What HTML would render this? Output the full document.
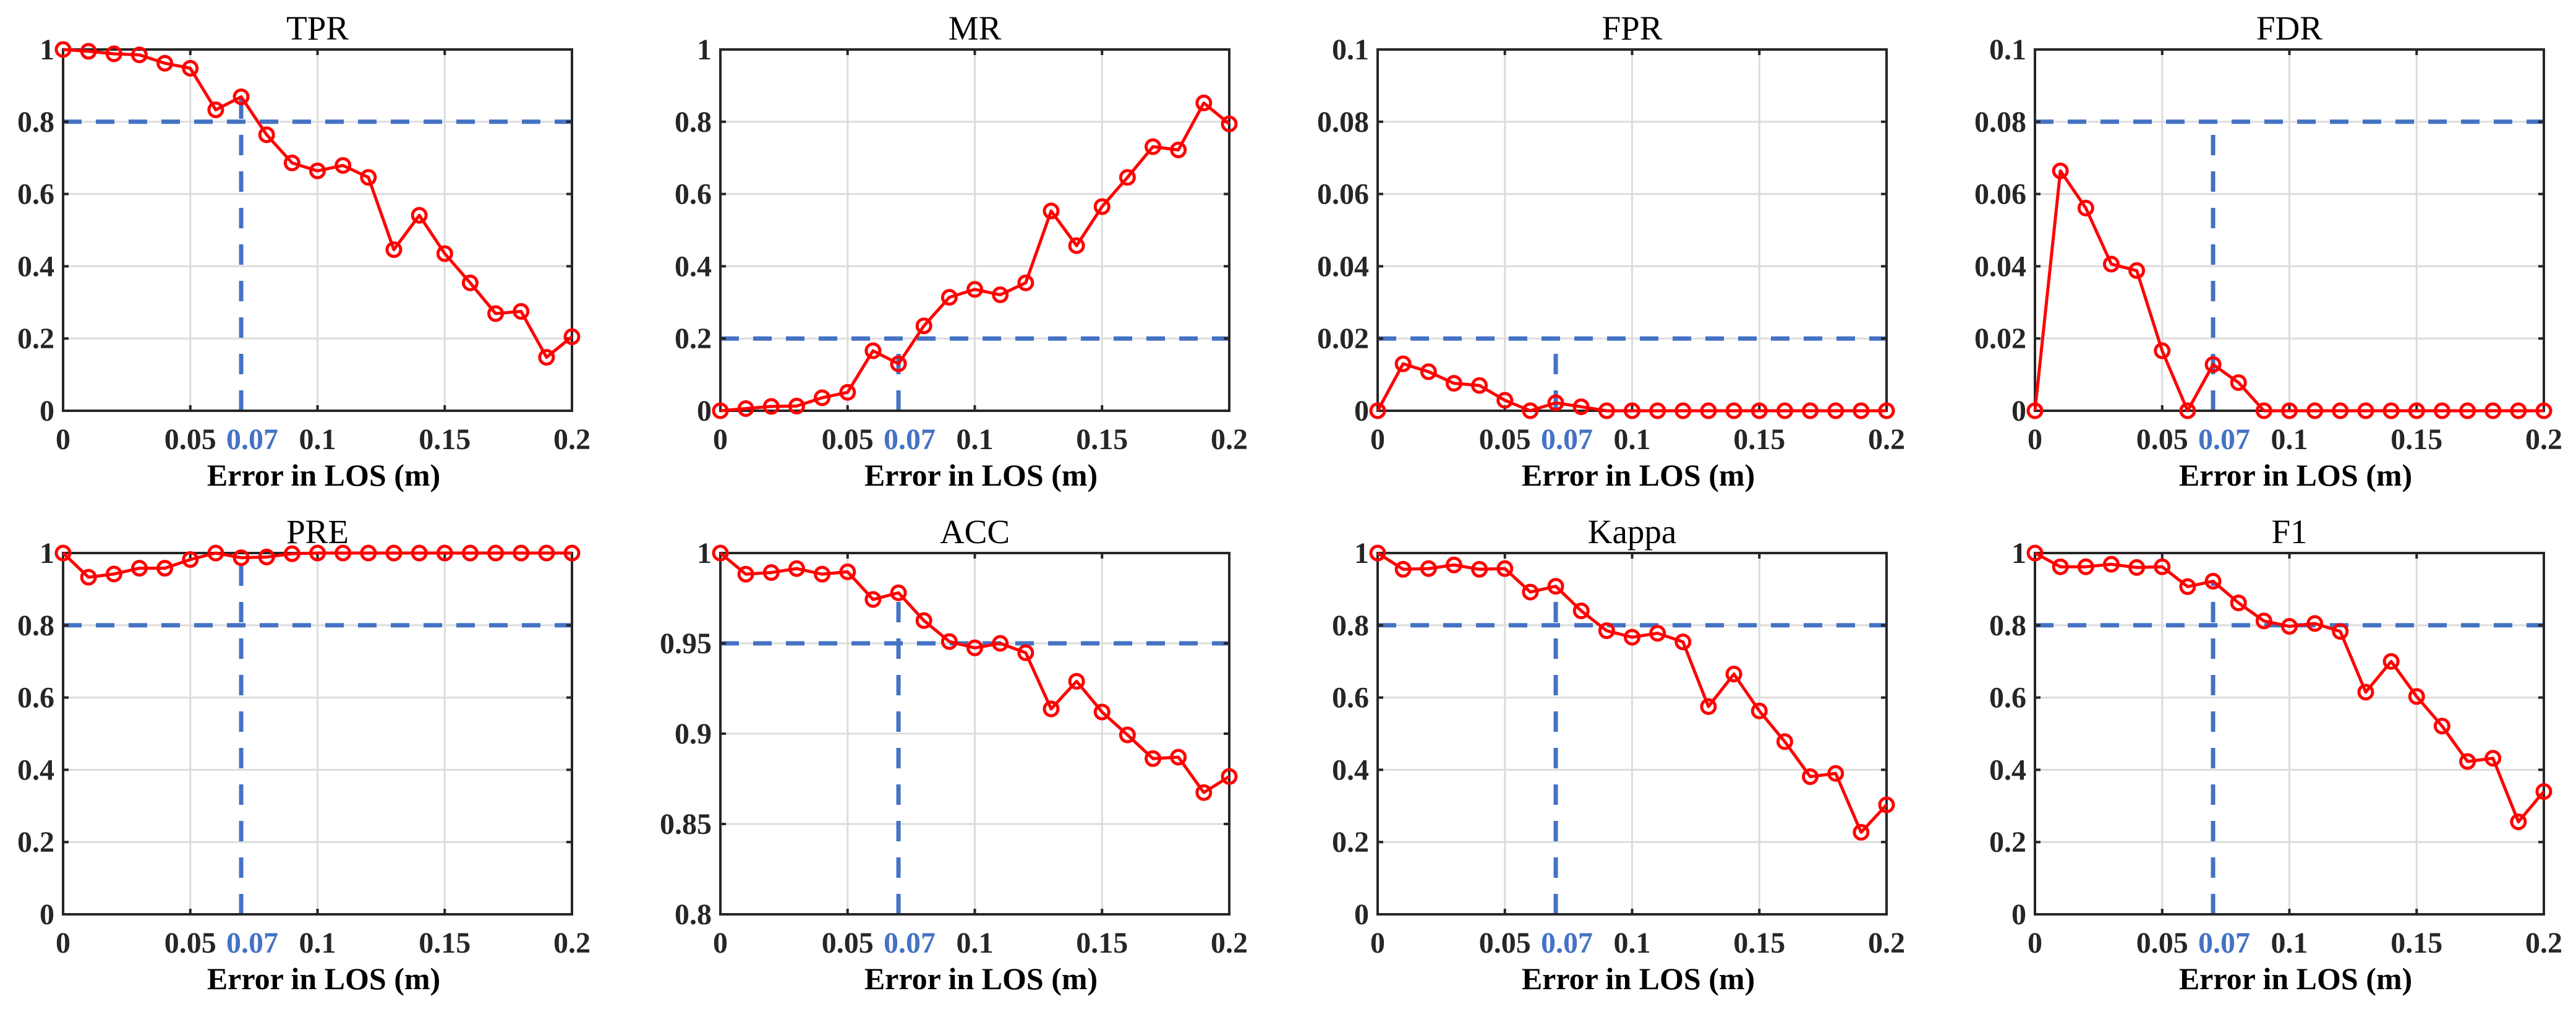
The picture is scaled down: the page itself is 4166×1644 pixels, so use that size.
<!DOCTYPE html>
<html>
<head>
<meta charset="utf-8">
<style>
html,body{margin:0;padding:0;background:#fff;}
svg{display:block;}
</style>
</head>
<body>
<svg id="fig" xmlns="http://www.w3.org/2000/svg" width="4166" height="1644" viewBox="0 0 4166 1644"></svg>
<script>
const xValues = [0,0.01,0.02,0.03,0.04,0.05,0.06,0.07,0.08,0.09,0.1,0.11,0.12,0.13,0.14,0.15,0.16,0.17,0.18,0.19,0.2];
const xTicks = [0,0.05,0.1,0.15,0.2];
const xTickLabels = ["0","0.05","0.1","0.15","0.2"];
const markX = 0.07;
const markLabel = "0.07";

const tprValues = [1.0,0.995,0.988,0.985,0.962,0.948,0.833,0.869,0.764,0.686,0.664,0.679,0.646,0.446,0.541,0.435,0.354,0.269,0.275,0.148,0.205];
const mrValues = [0,0.006,0.012,0.013,0.036,0.051,0.166,0.13,0.235,0.314,0.336,0.321,0.354,0.553,0.457,0.565,0.646,0.731,0.722,0.852,0.794];
const fprValues = [0,0.013,0.0108,0.0076,0.007,0.0029,0,0.0022,0.0011,0,0,0,0,0,0,0,0,0,0,0,0];
const fdrValues = [0,0.0664,0.0561,0.0406,0.0388,0.0166,0,0.0128,0.0078,0,0,0,0,0,0,0,0,0,0,0,0];
const preValues = [1.0,0.933,0.942,0.958,0.958,0.982,1.0,0.987,0.989,0.998,1,1,1,1,1,1,1,1,1,1,1];
const accValues = [1.0,0.9883,0.9892,0.9914,0.9883,0.9896,0.9743,0.978,0.9626,0.951,0.9475,0.95,0.9448,0.9137,0.929,0.912,0.8993,0.8862,0.887,0.8674,0.8763];
const kappaValues = [1.0,0.955,0.957,0.967,0.955,0.957,0.892,0.908,0.84,0.785,0.767,0.778,0.754,0.575,0.665,0.563,0.478,0.381,0.39,0.227,0.303];
const f1Values = [1.0,0.962,0.962,0.969,0.96,0.962,0.907,0.922,0.862,0.812,0.797,0.805,0.783,0.615,0.7,0.603,0.521,0.423,0.432,0.256,0.34];

const titles = ["TPR","MR","FPR","FDR","PRE","ACC","Kappa","F1"];
const yTicks01 = [0,0.2,0.4,0.6,0.8,1];
const yTickLabels01 = ["0","0.2","0.4","0.6","0.8","1"];
const yTicksSmall = [0,0.02,0.04,0.06,0.08,0.1];
const yTickLabelsSmall = ["0","0.02","0.04","0.06","0.08","0.1"];
const yTicksAcc = [0.8,0.85,0.9,0.95,1];
const yTickLabelsAcc = ["0.8","0.85","0.9","0.95","1"];
const thresholds = [0.8,0.2,0.02,0.08,0.8,0.95,0.8,0.8];

const NS = "http://www.w3.org/2000/svg";
const svg = document.getElementById('fig');
function mk(tag, attrs, parent){
  const e = document.createElementNS(NS, tag);
  for (const k in attrs) e.setAttribute(k, attrs[k]);
  (parent||svg).appendChild(e);
  return e;
}

const panels = [
  {v:tprValues, yt:yTicks01, yl:yTickLabels01, ymin:0, ymax:1},
  {v:mrValues, yt:yTicks01, yl:yTickLabels01, ymin:0, ymax:1},
  {v:fprValues, yt:yTicksSmall, yl:yTickLabelsSmall, ymin:0, ymax:0.1},
  {v:fdrValues, yt:yTicksSmall, yl:yTickLabelsSmall, ymin:0, ymax:0.1},
  {v:preValues, yt:yTicks01, yl:yTickLabels01, ymin:0, ymax:1},
  {v:accValues, yt:yTicksAcc, yl:yTickLabelsAcc, ymin:0.8, ymax:1},
  {v:kappaValues, yt:yTicks01, yl:yTickLabels01, ymin:0, ymax:1},
  {v:f1Values, yt:yTicks01, yl:yTickLabels01, ymin:0, ymax:1}
];
const colLeft = [102,1165,2228,3291];
const rowTop = [80,894];
const W = 823, H = 584;

panels.forEach((p, i) => {
  const L = colLeft[i%4], T = rowTop[Math.floor(i/4)], B = T + H, R = L + W;
  const xs = x => L + (x - 0) / 0.2 * W;
  const ys = y => B - (y - p.ymin) / (p.ymax - p.ymin) * H;
  const slug = titles[i].toLowerCase();
  const g = mk('g', {});
  
  

  // grid
  xTicks.forEach(t => {
    if (t > 0 && t < 0.2) {
      const ln = mk('line', {x1:xs(t), x2:xs(t), y1:T, y2:B, stroke:'#dcdcdc', 'stroke-width':3}, g);
      
      
    }
  });
  p.yt.forEach(t => {
    if (t > p.ymin && t < p.ymax) {
      const ln = mk('line', {x1:L, x2:R, y1:ys(t), y2:ys(t), stroke:'#dcdcdc', 'stroke-width':3}, g);
      
      
    }
  });

  // threshold lines
  const th = thresholds[i];
  const idx = xValues.indexOf(markX);
  const vtop = Math.max(th, p.v[idx]);
  const hl = mk('line', {x1:L, x2:R, y1:ys(th), y2:ys(th), stroke:'#4472C4', 'stroke-width':7, 'stroke-dasharray':'30 23'}, g);
  
  
  const vl = mk('line', {x1:xs(markX), x2:xs(markX), y1:B, y2:ys(vtop), stroke:'#4472C4', 'stroke-width':7, 'stroke-dasharray':'33 26'}, g);
  
  

  // axes box + ticks
  const box = mk('rect', {x:L, y:T, width:W, height:H, fill:'none', stroke:'#262626', 'stroke-width':4}, g);
  
  
  p.yt.forEach(t => {
    mk('line', {x1:L, x2:L+9, y1:ys(t), y2:ys(t), stroke:'#262626', 'stroke-width':4}, g);
    mk('line', {x1:R-9, x2:R, y1:ys(t), y2:ys(t), stroke:'#262626', 'stroke-width':4}, g);
  });
  xTicks.forEach(t => {
    mk('line', {x1:xs(t), x2:xs(t), y1:B-9, y2:B, stroke:'#262626', 'stroke-width':4}, g);
    mk('line', {x1:xs(t), x2:xs(t), y1:T, y2:T+9, stroke:'#262626', 'stroke-width':4}, g);
  });

  // y tick labels
  p.yt.forEach((t, k) => {
    const tx = mk('text', {x:L-14, y:ys(t)+16, 'text-anchor':'end', 'font-family':'"Liberation Serif", serif', 'font-weight':'bold', 'font-size':48, fill:'#262626'}, g);
    tx.textContent = p.yl[k];
    
    
  });
  // x tick labels
  xTicks.forEach((t, k) => {
    const tx = mk('text', {x:xs(t), y:B+62, 'text-anchor':'middle', 'font-family':'"Liberation Serif", serif', 'font-weight':'bold', 'font-size':48, fill:'#262626'}, g);
    tx.textContent = xTickLabels[k];
    
    
  });
  const ml = mk('text', {x:xs(markX)+18, y:B+62, 'text-anchor':'middle', 'font-family':'"Liberation Serif", serif', 'font-weight':'bold', 'font-size':48, fill:'#4472C4'}, g);
  ml.textContent = markLabel;
  
  

  // x axis title
  const xl = mk('text', {x:L+W/2+10, y:B+121, 'text-anchor':'middle', 'font-family':'"Liberation Serif", serif', 'font-weight':'bold', 'font-size':50, fill:'#000'}, g);
  xl.textContent = 'Error in LOS (m)';
  
  

  // title
  const tt = mk('text', {x:L+W/2, y:T-16, 'text-anchor':'middle', 'font-family':'"Liberation Serif", serif', 'font-size':55, fill:'#000'}, g);
  tt.textContent = titles[i];
  
  

  // series
  const pts = xValues.map((x, k) => xs(x) + ',' + ys(p.v[k])).join(' ');
  const pl = mk('polyline', {points:pts, fill:'none', stroke:'#ff0000', 'stroke-width':5, 'stroke-linejoin':'round'}, g);
  
  
  xValues.forEach((x, k) => {
    const c = mk('circle', {cx:xs(x), cy:ys(p.v[k]), r:11, fill:'none', stroke:'#ff0000', 'stroke-width':5}, g);
    
    
  });
});
</script>
</body>
</html>
